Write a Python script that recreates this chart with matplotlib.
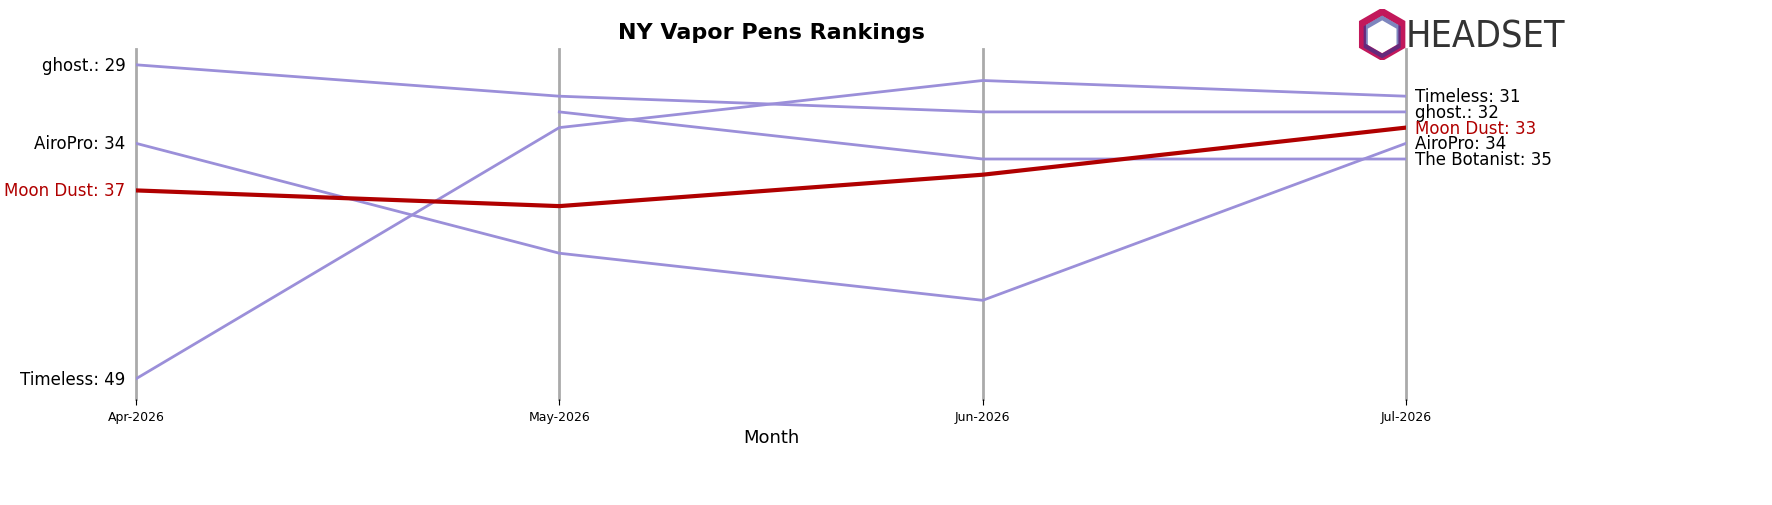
import matplotlib
matplotlib.use("Agg")
import matplotlib.pyplot as plt
from matplotlib.patches import RegularPolygon
import numpy as np

months = ["Apr-2026", "May-2026", "Jun-2026", "Jul-2026"]
brands = ["ghost.", "AiroPro", "Timeless", "The Botanist", "Moon Dust"]
ranks = {
    "ghost.": [29, 31, 32, 32],
    "AiroPro": [34, 41, 44, 34],
    "Timeless": [49, 33, 30, 31],
    "The Botanist": [None, 32, 35, 35],
    "Moon Dust": [37, 38, 36, 33],
}
highlight = "Moon Dust"
other_color = "#9b8fd9"
hl_color = "#b00000"

fig = plt.figure(figsize=(17.72, 5.06), dpi=100)
ax = fig.add_axes([0.0767, 0.209, 0.7168, 0.692])
x = np.arange(len(months))

for xi in x:
    ax.axvline(xi, color="#aaaaaa", lw=2, zorder=0, clip_on=False)

for b in brands:
    r = ranks[b]
    xs = [xi for xi, v in zip(x, r) if v is not None]
    ys = [v for v in r if v is not None]
    if b == highlight:
        ax.plot(xs, ys, color=hl_color, lw=3, zorder=3)
    else:
        ax.plot(xs, ys, color=other_color, lw=2, zorder=2)
    c = hl_color if b == highlight else "black"
    if r[0] is not None:
        ax.text(-0.025, r[0], f"{b}: {r[0]}", ha="right", va="center", fontsize=12, color=c)
    if r[-1] is not None:
        ax.text(x[-1] + 0.022, r[-1], f"{b}: {r[-1]}", ha="left", va="center", fontsize=12, color=c)

ax.set_xlim(0, 3)
ax.set_ylim(50.3, 28.0)
ax.set_xticks(x)
ax.set_xticklabels(months, fontsize=9)
ax.set_yticks([])
ax.tick_params(axis="x", length=4)
for s in ax.spines.values():
    s.set_visible(False)
ax.set_xlabel("Month", fontsize=13)
ax.set_title("NY Vapor Pens Rankings", fontsize=16, fontweight="bold", pad=8)

# logo
logo_ax = fig.add_axes([0.765, 0.88, 0.03, 0.1])
logo_ax.set_xlim(-1, 1)
logo_ax.set_ylim(-1, 1)
logo_ax.set_aspect("equal")
logo_ax.axis("off")
logo_ax.add_patch(RegularPolygon((0, 0), 6, radius=0.9, facecolor="none",
                                 edgecolor="#c2185b", lw=5))
logo_ax.add_patch(RegularPolygon((0, -0.1), 6, radius=0.75, facecolor="none",
                                 edgecolor="#283593", lw=3, alpha=0.6))
fig.text(0.793, 0.925, "HEADSET", fontsize=27, color="#333333", va="center", ha="left",
         fontstretch="condensed")
plt.savefig("out.png")
